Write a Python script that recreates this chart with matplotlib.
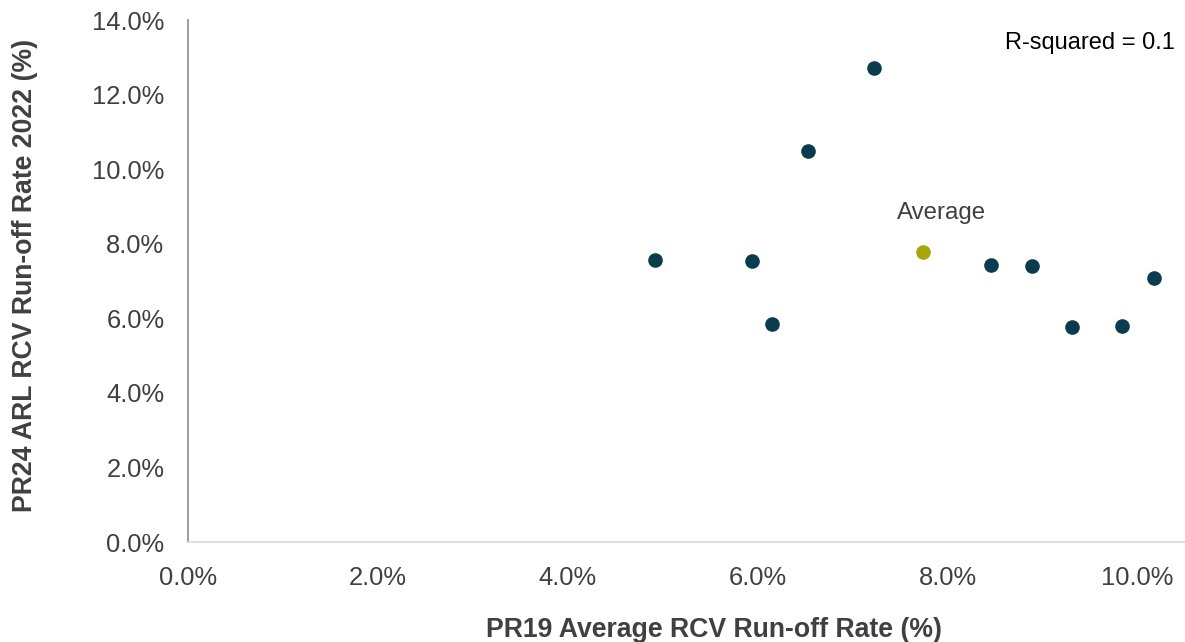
import matplotlib
matplotlib.use("Agg")
import matplotlib.pyplot as plt
from matplotlib.ticker import PercentFormatter

plt.rcParams['font.family'] = ['Liberation Sans', 'DejaVu Sans']

# Data (fractions)
x_companies = [0.0492, 0.0594, 0.0615, 0.0653, 0.0722, 0.0846, 0.0889, 0.0931, 0.0984, 0.1017]
y_companies = [0.0756, 0.0753, 0.0584, 0.1048, 0.1271, 0.0743, 0.0740, 0.0576, 0.0579, 0.0708]
x_average = [0.0774]
y_average = [0.0777]
average_label = "Average"
r_squared_text = "R-squared = 0.1"
x_title = "PR19 Average RCV Run-off Rate (%)"
y_title = "PR24 ARL RCV Run-off Rate 2022 (%)"
x_ticks = [0.0, 0.02, 0.04, 0.06, 0.08, 0.10]
y_ticks = [0.0, 0.02, 0.04, 0.06, 0.08, 0.10, 0.12, 0.14]

fig = plt.figure(figsize=(11.85, 6.42), dpi=100)
ax = fig.add_axes([188/1185, 1-542/642, 1-188/1185, (542-20)/642])

ax.plot(x_companies, y_companies, 'o', color='#0b3c4d', markersize=9.5, linestyle='none')
ax.plot(x_average, y_average, 'o', color='#a5a70a', markersize=9.5, linestyle='none')
ax.annotate(average_label, (x_average[0], y_average[0]), xytext=(13.5, 28), textcoords='offset points',
            ha='center', va='center', fontsize=17.3, color='#404040')
ax.text(0.99, 0.955, r_squared_text, transform=ax.transAxes, ha='right', va='center', fontsize=17, color='#000000')

ax.set_xlim(0, 0.105)
ax.set_ylim(0, 0.14)
ax.set_xticks(x_ticks)
ax.set_yticks(y_ticks)
ax.xaxis.set_major_formatter(PercentFormatter(1.0, decimals=1))
ax.yaxis.set_major_formatter(PercentFormatter(1.0, decimals=1))
ax.tick_params(length=0, labelsize=18.4, colors='#404040')
ax.tick_params(axis='y', pad=17)
ax.tick_params(axis='x', pad=17)

for s in ['top', 'right']:
    ax.spines[s].set_visible(False)
ax.spines['left'].set_color('#8c8c8c')
ax.spines['bottom'].set_color('#d9d9d9')
ax.spines['left'].set_linewidth(1.2)
ax.spines['bottom'].set_linewidth(1.2)

fig.text(714/1185, 1-630/642, x_title, ha='center', va='center', fontsize=19.2, fontweight='bold', color='#404040')
fig.text(25/1185, 1-275/642, y_title, ha='center', va='center', rotation=90, fontsize=19.2, fontweight='bold', color='#404040')

fig.savefig("out.png", dpi=100)
